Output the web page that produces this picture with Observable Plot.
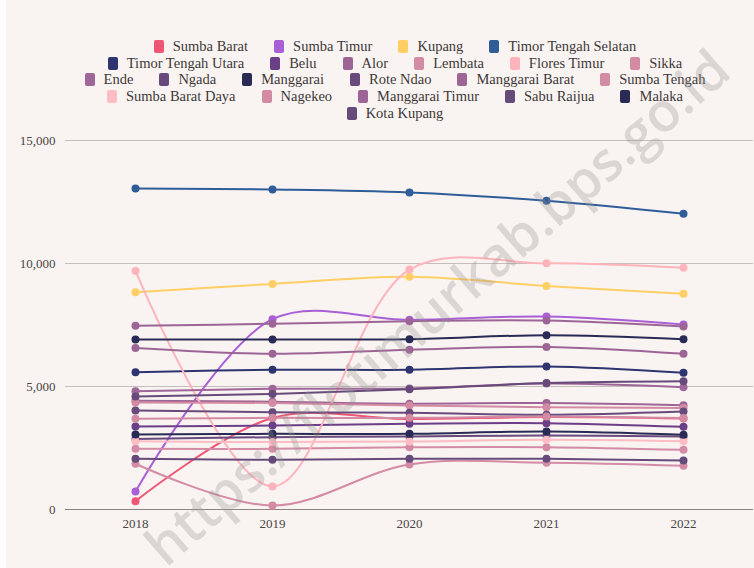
<!DOCTYPE html>
<html>
<head>
<meta charset="utf-8">
<script src="https://cdn.jsdelivr.net/npm/d3@7"></script>
<script src="https://cdn.jsdelivr.net/npm/@observablehq/plot@0.6"></script>
<style>
  html, body { margin: 0; padding: 0; }
  body { width: 754px; height: 568px; background: #f9f4f2; position: relative; overflow: hidden; font-family: "Liberation Serif", "DejaVu Serif", serif; }
  #strip { position: absolute; left: 0; top: 0; width: 6px; height: 568px; background: #ffffff; }
  #legend { position: absolute; top: 38px; left: 36px; right: 0; }
  .row { display: flex; justify-content: center; height: 16.7px; align-items: center; }
  .item { display: flex; align-items: center; margin: 0 13px; font-size: 14.5px; color: #3e3838; white-space: nowrap; }
  .sw { width: 10px; height: 13px; border-radius: 2px; margin-right: 9px; }
  #chart { position: absolute; left: 0; top: 130px; }
  #wm { position: absolute; left: 436px; top: 306px; transform: translate(-50%, -50%) rotate(-41deg); font-family: "Open Sans", "DejaVu Sans", sans-serif; font-weight: 600; font-size: 54px; color: rgba(150, 145, 143, 0.3); white-space: nowrap; pointer-events: none; }
</style>
</head>
<body>
<div id="strip"></div>
<div id="legend"></div>
<div id="chart"></div>
<div id="wm">https://flotimurkab.bps.go.id</div>
<script>
const years = ["2018", "2019", "2020", "2021", "2022"];
const yTicks = [0, 5000, 10000, 15000];

const names = ["Sumba Barat", "Sumba Timur", "Kupang", "Timor Tengah Selatan",
  "Timor Tengah Utara", "Belu", "Alor", "Lembata", "Flores Timur", "Sikka",
  "Ende", "Ngada", "Manggarai", "Rote Ndao", "Manggarai Barat", "Sumba Tengah",
  "Sumba Barat Daya", "Nagekeo", "Manggarai Timur", "Sabu Raijua", "Malaka",
  "Kota Kupang"];

const colors = ["#ef5675", "#a95fd6", "#ffcf66", "#2f5d98",
  "#2e3470", "#6b3f87", "#9d6596", "#d48ba5", "#ffb4bb", "#d38aa3",
  "#9f6798", "#684a7c", "#2a2b55", "#684a7c", "#9d6596", "#d48ba5",
  "#ffbcc3", "#d38aa3", "#9d6596", "#664a7a", "#2a2b55",
  "#664a7a"];

const legendRows = [4, 6, 6, 5, 1];

const sumbaBarat = [340, 3720, 3680, 3760, 3700];
const sumbaTimur = [730, 7735, 7710, 7845, 7520];
const kupang = [8835, 9170, 9460, 9090, 8770];
const timorTengahSelatan = [13050, 13010, 12890, 12550, 12020];
const timorTengahUtara = [5580, 5680, 5680, 5815, 5555];
const belu = [3375, 3415, 3485, 3510, 3360];
const alor = [4420, 4380, 4300, 4330, 4240];
const lembata = [2465, 2465, 2535, 2535, 2425];
const floresTimur = [9700, 935, 9755, 10010, 9825];
const sikka = [4350, 4330, 4230, 4160, 4130];
const ende = [4810, 4905, 4920, 5120, 4970];
const ngada = [4025, 3955, 3930, 3850, 3985];
const manggarai = [6910, 6910, 6925, 7085, 6925];
const roteNdao = [2870, 2940, 2970, 3010, 2970];
const manggaraiBarat = [6570, 6330, 6490, 6610, 6330];
const sumbaTengah = [1860, 160, 1830, 1900, 1775];
const sumbaBaratDaya = [2770, 2740, 2765, 2835, 2775];
const nagekeo = [3685, 3725, 3725, 3780, 3715];
const manggaraiTimur = [7465, 7550, 7655, 7680, 7440];
const sabuRaijua = [2060, 2020, 2060, 2060, 1990];
const malaka = [3050, 3075, 3075, 3170, 3035];
const kotaKupang = [4595, 4700, 4890, 5140, 5215];

const seriesValues = [sumbaBarat, sumbaTimur, kupang, timorTengahSelatan,
  timorTengahUtara, belu, alor, lembata, floresTimur, sikka,
  ende, ngada, manggarai, roteNdao, manggaraiBarat, sumbaTengah,
  sumbaBaratDaya, nagekeo, manggaraiTimur, sabuRaijua, malaka, kotaKupang];

const data = [];
names.forEach((n, i) => {
  years.forEach((y, j) => data.push({name: n, year: y, value: seriesValues[i][j]}));
});

// Legend
const legend = document.getElementById("legend");
let idx = 0;
legendRows.forEach(count => {
  const row = document.createElement("div");
  row.className = "row";
  for (let k = 0; k < count; k++, idx++) {
    const item = document.createElement("div");
    item.className = "item";
    const sw = document.createElement("span");
    sw.className = "sw";
    sw.style.background = colors[idx];
    const tx = document.createElement("span");
    tx.textContent = names[idx];
    item.appendChild(sw);
    item.appendChild(tx);
    row.appendChild(item);
  }
  legend.appendChild(row);
});

const chart = Plot.plot({
  width: 754,
  height: 438,
  marginLeft: 65,
  marginRight: 1,
  marginTop: 10,
  marginBottom: 59,
  style: {background: "transparent", fontFamily: "'Liberation Serif', serif", fontSize: "13px", color: "#4a4444"},
  x: {type: "point", domain: years, padding: 0.5, label: null},
  y: {domain: [0, 15000], label: null},
  color: {domain: names, range: colors},
  marks: [
    Plot.gridY(yTicks.filter(d => d > 0), {stroke: "#c6bebc", strokeOpacity: 1, strokeWidth: 1}),
    Plot.ruleY([0], {stroke: "#8c8484", strokeWidth: 1}),
    Plot.axisY(yTicks, {tickSize: 0, tickPadding: 10, tickFormat: d3.format(","), label: null}),
    Plot.axisX({tickSize: 0, tickPadding: 9, label: null}),
    Plot.line(data, {x: "year", y: "value", z: "name", stroke: "name", strokeWidth: 2, curve: "catmull-rom"}),
    Plot.dot(data, {x: "year", y: "value", fill: "name", r: 4})
  ]
});
document.getElementById("chart").appendChild(chart);
</script>
</body>
</html>
